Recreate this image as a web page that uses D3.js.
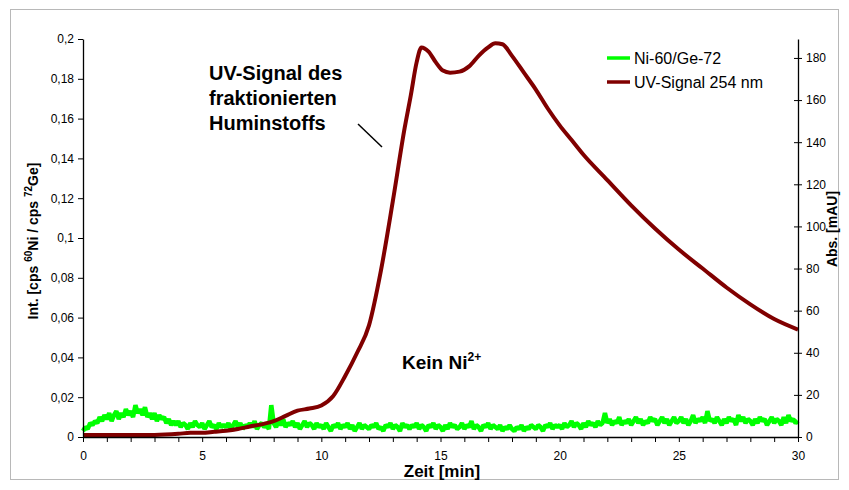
<!DOCTYPE html>
<html><head><meta charset="utf-8">
<script src="https://cdn.jsdelivr.net/npm/d3@7"></script>
<style>
html,body{margin:0;padding:0;background:#fff;}
svg{display:block;font-family:"Liberation Sans",Arial,sans-serif;}
</style></head>
<body>
<svg id="chart" width="849" height="490"></svg>
<script>
// ---- data ----
const niStart = 0, niStep = 0.1; // minutes (sampling of the Ni trace)
const niValues = [
0.003,0.005,0.004,0.007,0.006,0.008,0.007,0.010,0.008,0.011,
0.009,0.012,0.008,0.011,0.013,0.009,0.012,0.010,0.014,0.011,
0.013,0.010,0.016,0.012,0.014,0.011,0.015,0.010,0.012,0.009,
0.012,0.008,0.011,0.009,0.010,0.007,0.009,0.006,0.008,0.006,
0.008,0.005,0.007,0.006,0.004,0.007,0.005,0.008,0.006,0.005,
0.007,0.004,0.006,0.008,0.005,0.006,0.004,0.007,0.005,0.006,
0.005,0.007,0.004,0.006,0.008,0.005,0.007,0.004,0.006,0.005,
0.007,0.005,0.008,0.004,0.006,0.007,0.005,0.006,0.004,0.016,
0.007,0.005,0.008,0.006,0.009,0.005,0.007,0.006,0.008,0.005,
0.007,0.004,0.006,0.008,0.005,0.007,0.006,0.004,0.007,0.005,
0.006,0.004,0.007,0.005,0.003,0.006,0.005,0.007,0.004,0.006,
0.005,0.007,0.004,0.006,0.003,0.005,0.007,0.004,0.006,0.005,
0.004,0.006,0.005,0.007,0.004,0.005,0.003,0.006,0.005,0.007,
0.004,0.006,0.005,0.003,0.007,0.005,0.006,0.004,0.006,0.005,
0.007,0.004,0.006,0.005,0.003,0.006,0.005,0.007,0.004,0.006,
0.005,0.003,0.006,0.004,0.007,0.005,0.006,0.004,0.005,0.007,
0.004,0.006,0.005,0.008,0.004,0.006,0.005,0.003,0.006,0.005,
0.007,0.004,0.006,0.005,0.004,0.006,0.003,0.005,0.004,0.006,
0.004,0.003,0.005,0.004,0.006,0.003,0.005,0.004,0.006,0.005,
0.004,0.006,0.005,0.003,0.006,0.005,0.007,0.004,0.006,0.005,
0.006,0.004,0.007,0.005,0.006,0.008,0.005,0.007,0.006,0.004,
0.007,0.005,0.008,0.006,0.007,0.005,0.008,0.006,0.007,0.012,
0.007,0.009,0.006,0.008,0.007,0.010,0.006,0.008,0.007,0.009,
0.006,0.008,0.010,0.007,0.009,0.006,0.008,0.007,0.010,0.008,
0.009,0.006,0.008,0.010,0.007,0.009,0.006,0.008,0.010,0.007,
0.008,0.010,0.007,0.009,0.006,0.008,0.011,0.007,0.009,0.008,
0.010,0.007,0.013,0.008,0.009,0.007,0.010,0.008,0.006,0.009,
0.007,0.010,0.008,0.009,0.006,0.011,0.008,0.010,0.007,0.009,
0.008,0.006,0.009,0.007,0.010,0.008,0.009,0.006,0.008,0.010,
0.007,0.009,0.008,0.006,0.010,0.007,0.011,0.008,0.009,0.007,
0.008
];
const uvTime  = [0,1,2,3,4,4.5,5,5.5,6,6.5,7,7.5,8,8.5,9,9.5,10,10.5,11,11.5,12,12.5,13,13.5,13.75,14,14.2,14.5,14.8,15.1,15.4,15.8,16.2,16.6,17,17.3,17.6,18,18.5,19,19.5,20,20.5,21,22,23,24,25,26,27,28,29,30];
const uvValue = [1,1,1,1,1.5,2,2,2.5,3,3.8,5,6,7.5,10,12.5,13.5,15,19.5,29,40,53,79,112,147,162,178,185,183,178,174,173,173.5,176,181,185,187,186.5,181,173,165,156,148,141,134,122,110,99,89,80,71,63,56,51];

const xTicks = [0,1,2,3,4,5,6,7,8,9,10,11,12,13,14,15,16,17,18,19,20,21,22,23,24,25,26,27,28,29,30];
const xTickLabels = {0:"0",5:"5",10:"10",15:"15",20:"20",25:"25",30:"30"};
const leftTicks = [0,0.02,0.04,0.06,0.08,0.1,0.12,0.14,0.16,0.18,0.2];
const leftTickLabels = ["0","0,02","0,04","0,06","0,08","0,1","0,12","0,14","0,16","0,18","0,2"];
const rightTicks = [0,20,40,60,80,100,120,140,160,180];

const seriesNames = ["Ni-60/Ge-72","UV-Signal 254 nm"];
const seriesColors = ["#00ff00","#800000"];

// ---- layout ----
const svg = d3.select("#chart");
const x = d3.scaleLinear().domain([0,30]).range([83,798]);
const yL = d3.scaleLinear().domain([0,0.2]).range([437,39]);
const yR = d3.scaleLinear().domain([0,189]).range([437,39]);

// outer frame
svg.append("rect").attr("x",10.5).attr("y",9.5).attr("width",828).attr("height",470)
  .attr("fill","none").attr("stroke","#b8b8b8").attr("stroke-width",1);

// data lines
const niData = niValues.map((v,i)=>({t: niStart + i*niStep, v}));
const uvData = uvTime.map((t,i)=>({t, v: uvValue[i]}));

svg.append("path").datum(niData)
  .attr("fill","none").attr("stroke",seriesColors[0]).attr("stroke-width",4.5)
  .attr("stroke-linejoin","bevel")
  .attr("d", d3.line().x(d=>x(d.t)).y(d=>yL(d.v)));

svg.append("path").datum(uvData)
  .attr("fill","none").attr("stroke",seriesColors[1]).attr("stroke-width",4)
  .attr("d", d3.line().curve(d3.curveMonotoneX).x(d=>x(d.t)).y(d=>yR(d.v)));

// axes
const fontTick = 12;
const gx = svg.append("g").attr("transform","translate(0,437)")
  .call(d3.axisBottom(x).tickValues(xTicks).tickSize(5).tickSizeOuter(0)
        .tickFormat(d=>xTickLabels[d]||""));
const gl = svg.append("g").attr("transform","translate(83,0)")
  .call(d3.axisLeft(yL).tickValues(leftTicks).tickSize(5).tickSizeOuter(0)
        .tickFormat((d,i)=>leftTickLabels[i]));
const gr = svg.append("g").attr("transform","translate(798,0)")
  .call(d3.axisRight(yR).tickValues(rightTicks).tickSize(4).tickSizeOuter(0));
gr.selectAll(".tick line").attr("x1",-4).attr("x2",4);
gr.selectAll(".tick text").attr("x",8);
gl.selectAll(".tick text").attr("x",-9);
gx.selectAll(".tick text").attr("y",14);
[gx,gl,gr].forEach(g=>{
  g.select(".domain").attr("stroke","#000").attr("stroke-width",1.3);
  g.selectAll(".tick line").attr("stroke","#000").attr("stroke-width",1);
  g.selectAll(".tick text").attr("fill","#000").attr("font-size",fontTick)
    .attr("font-family","Liberation Sans, Arial, sans-serif");
});

// axis titles
svg.append("text").attr("x",442).attr("y",477).attr("text-anchor","middle")
  .attr("font-size",17).attr("font-weight","bold").text("Zeit [min]");

const lt = svg.append("text").attr("transform","translate(38,241) rotate(-90)")
  .attr("text-anchor","middle").attr("font-size",14).attr("font-weight","bold");
lt.append("tspan").text("Int. [cps ");
lt.append("tspan").attr("dy",-6).attr("font-size",10).text("60");
lt.append("tspan").attr("dy",6).text("Ni / cps ");
lt.append("tspan").attr("dy",-6).attr("font-size",10).text("72");
lt.append("tspan").attr("dy",6).text("Ge]");

svg.append("text").attr("transform","translate(837,229) rotate(-90)")
  .attr("text-anchor","middle").attr("font-size",14).attr("font-weight","bold")
  .text("Abs. [mAU]");

// legend
const legY = [58,82];
seriesNames.forEach((name,i)=>{
  svg.append("line").attr("x1",607).attr("x2",630).attr("y1",legY[i]).attr("y2",legY[i])
    .attr("stroke",seriesColors[i]).attr("stroke-width",3.5);
  svg.append("text").attr("x",634).attr("y",legY[i]+6).attr("font-size",16).text(name);
});

// annotations
const ann = svg.append("text").attr("font-size",20).attr("font-weight","bold");
["UV-Signal des","fraktionierten","Huminstoffs"].forEach((s,i)=>{
  ann.append("tspan").attr("x",209).attr("y",80+i*25).text(s);
});
svg.append("line").attr("x1",358).attr("y1",124).attr("x2",382).attr("y2",147)
  .attr("stroke","#000").attr("stroke-width",1.5);

const kn = svg.append("text").attr("x",402).attr("y",369).attr("font-size",19).attr("font-weight","bold");
kn.append("tspan").text("Kein Ni");
kn.append("tspan").attr("dy",-8).attr("font-size",12).text("2+");
</script>
</body></html>
